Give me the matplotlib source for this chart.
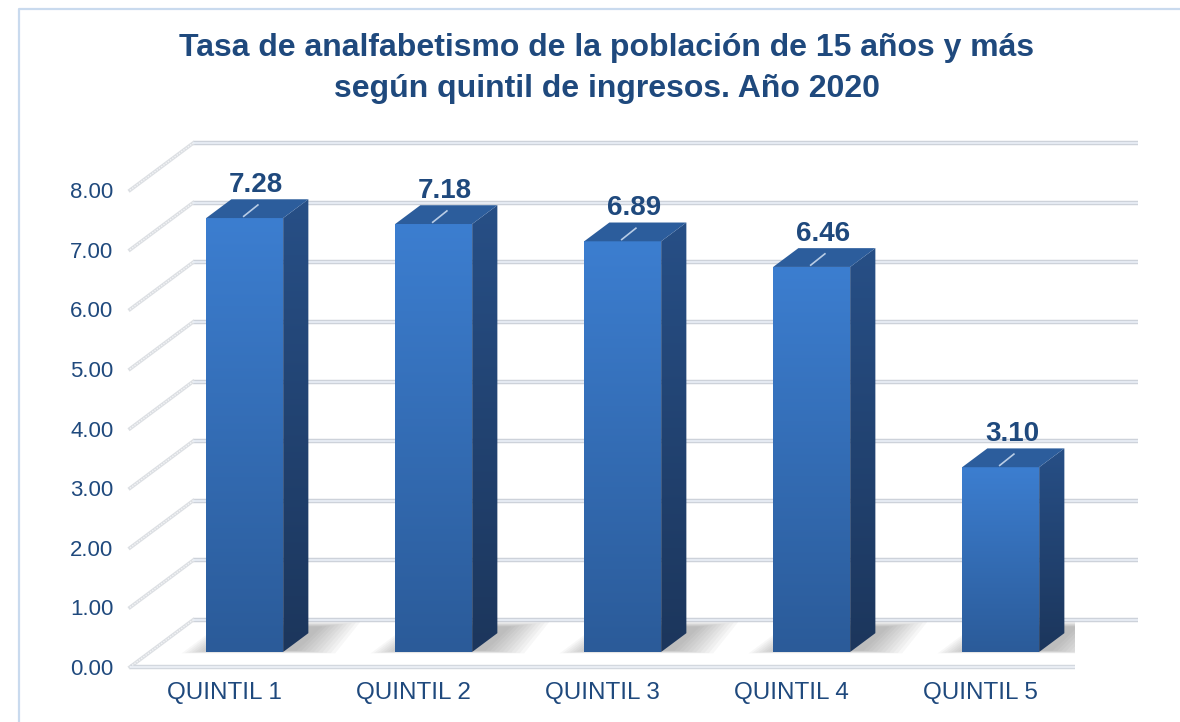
import numpy as np
import matplotlib.pyplot as plt
from matplotlib.patches import Polygon
from matplotlib.lines import Line2D
from matplotlib.colors import LinearSegmentedColormap

# Datos
categorias = ['QUINTIL 1', 'QUINTIL 2', 'QUINTIL 3', 'QUINTIL 4', 'QUINTIL 5']
tasas = [7.28, 7.18, 6.89, 6.46, 3.10]
marcas_y = [0, 1, 2, 3, 4, 5, 6, 7, 8]
titulo = ['Tasa de analfabetismo de la población de 15 años y más',
          'según quintil de ingresos. Año 2020']

plt.rcParams['font.family'] = ['Liberation Sans', 'DejaVu Sans']
azul_texto = '#1F497D'

fig = plt.figure(figsize=(11.8, 7.22), dpi=100)
fig.patch.set_facecolor('white')
ax = fig.add_axes([130 / 1180, 55 / 722, 945 / 1180, 8 * 59.6 / 722])

# desplazamiento de profundidad (efecto 3D)
DX = 63 / 189
DY = 47 / 59.6


def cara(pts, c_arriba, c_abajo, z):
    poly = Polygon(pts, closed=True, facecolor='none', edgecolor='none', zorder=z)
    ax.add_patch(poly)
    xs = [p[0] for p in pts]
    ys = [p[1] for p in pts]
    cmap = LinearSegmentedColormap.from_list('g', [c_abajo, c_arriba])
    im = ax.imshow(np.linspace(0, 1, 200).reshape(-1, 1),
                   extent=[min(xs), max(xs), min(ys), max(ys)],
                   origin='lower', cmap=cmap, aspect='auto', zorder=z,
                   interpolation='bilinear')
    im.set_clip_path(poly)


# pared del fondo y lateral
for v in marcas_y:
    ax.plot([-0.5 + DX, 4.5 + DX], [v + DY] * 2, color='#CDD2DA', lw=3.2,
            solid_capstyle='butt', zorder=1, clip_on=False)
    ax.plot([-0.5 + DX, 4.5 + DX], [v + DY] * 2, color='#EAF0F8', lw=1.2,
            solid_capstyle='butt', zorder=1.1, clip_on=False)
    ax.plot([-0.5, -0.5 + DX], [v, v + DY], color='#DCDFE3', lw=2.6,
            zorder=1, clip_on=False)
    ax.plot([-0.5, -0.5 + DX], [v, v + DY], color='#F4F5F7', lw=1.0,
            ls=(0, (1, 1)), zorder=1.1, clip_on=False)
ax.plot([-0.5, 4.5], [0, 0], color='#D3D8DF', lw=3.2, solid_capstyle='butt',
        zorder=1, clip_on=False)
ax.plot([-0.5, 4.5], [0, 0], color='#EEF2F8', lw=1.2, solid_capstyle='butt',
        zorder=1.1, clip_on=False)

# barras
zf, zb = 0.32, 0.72
ancho = 77 / 189
ddx = (zb - zf) * DX
ddy = (zb - zf) * DY
y0 = zf * DY
for i, v in enumerate(tasas):
    xc = i + zf * DX
    L, R = xc - ancho / 2, xc + ancho / 2
    # sombra difusa sobre el piso
    for k in range(10):
        e = 0.009 * (k + 1)
        sx, sy = 0.05, 0.10
        ax.add_patch(Polygon([(L - e * 2 + sx, y0 - e * 0.6 + 0.03),
                              (R + e * 2.5 + sx, y0 - e * 0.6 + 0.03),
                              (R + ddx + e * 2.5 + sx, y0 + ddy + e + sy),
                              (L + ddx - e + sx, y0 + ddy + e + sy)],
                             closed=True, facecolor='#505050', alpha=0.045,
                             edgecolor='none', zorder=2))
    cara([(L, y0), (R, y0), (R, y0 + v), (L, y0 + v)], '#3C7ED0', '#2B5B99', 3)
    cara([(R, y0), (R + ddx, y0 + ddy), (R + ddx, y0 + ddy + v), (R, y0 + v)],
         '#274F86', '#1C365C', 3)
    ax.add_patch(Polygon([(L, y0 + v), (R, y0 + v), (R + ddx, y0 + v + ddy),
                          (L + ddx, y0 + v + ddy)], closed=True,
                         facecolor='#2C5D9C', edgecolor='none', zorder=3.5))
    ax.plot([xc - 0.005, xc + 0.07], [y0 + v + 0.03, y0 + v + 0.22],
            color='#B9CDE6', lw=1.2, zorder=4)
    ax.text(xc + 0.06, y0 + v + 0.56, f'{v:.2f}', ha='center', va='center',
            fontsize=20, fontweight='bold', color=azul_texto, zorder=5)

ax.set_xlim(-0.5, 4.5)
ax.set_ylim(0, 8)
ax.set_yticks(marcas_y)
ax.set_yticklabels([f'{v:.2f}' for v in marcas_y])
ax.set_xticks(range(len(categorias)))
ax.set_xticklabels(categorias)
ax.tick_params(axis='y', length=0, pad=12, labelsize=16, labelcolor=azul_texto)
ax.tick_params(axis='x', length=0, pad=11, labelsize=17.5, labelcolor=azul_texto)
for s in ax.spines.values():
    s.set_visible(False)
ax.patch.set_alpha(0)

fig.text(607 / 1180, 1 - 48 / 722, titulo[0], ha='center', va='center',
         fontsize=23, fontweight='bold', color=azul_texto)
fig.text(607 / 1180, 1 - 89 / 722, titulo[1], ha='center', va='center',
         fontsize=23, fontweight='bold', color=azul_texto)

# marco
fig.add_artist(Line2D([19 / 1180, 19 / 1180, 1], [0, 1 - 9 / 722, 1 - 9 / 722],
                      transform=fig.transFigure, color='#C9DAEE', lw=1.6))

fig.savefig('out.png', dpi=100)
